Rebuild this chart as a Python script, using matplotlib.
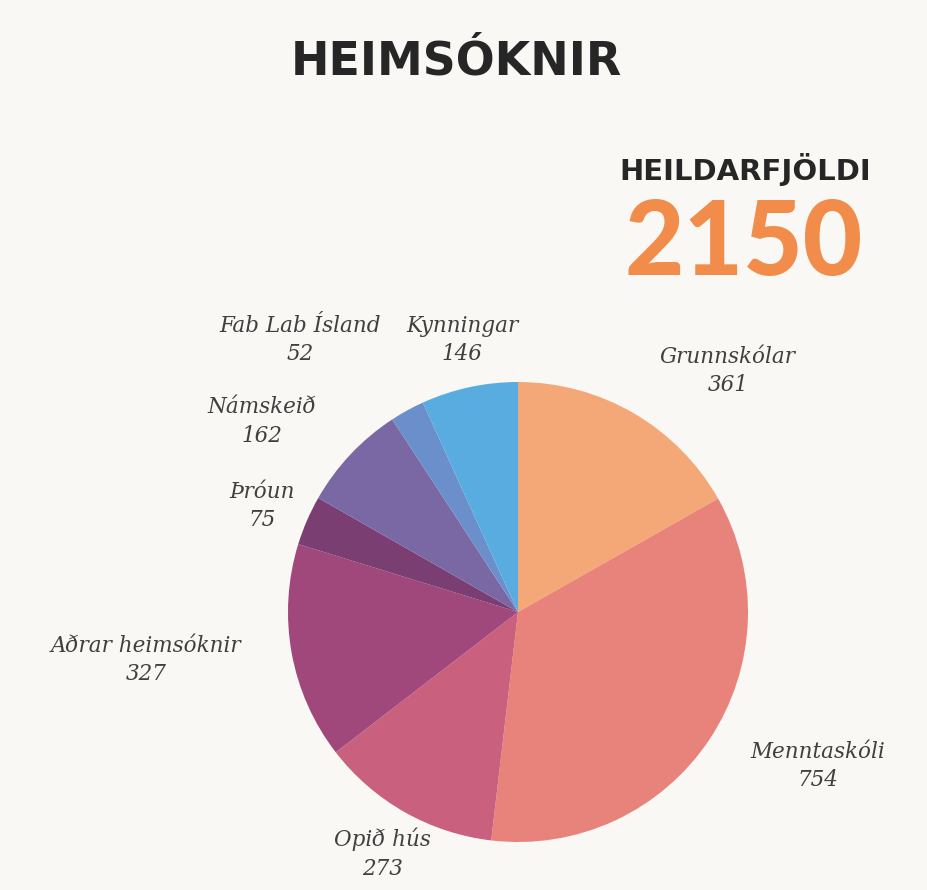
import matplotlib
matplotlib.use("Agg")
import matplotlib.pyplot as plt

# data
categories = ["Grunnskólar", "Menntaskóli", "Opið hús", "Aðrar heimsóknir",
              "Þróun", "Námskeið", "Fab Lab Ísland", "Kynningar"]
visits = [361, 754, 273, 327, 75, 162, 52, 146]
total = 2150

colors = ["#F4A877", "#E8837C", "#C8607E", "#A0477C",
          "#7A3E72", "#7A68A4", "#6B8FCB", "#59ACE0"]
# label centres in pie-radius units
label_pos = [(0.913, 1.048), (1.304, -0.670), (-0.591, -1.052), (-1.617, -0.209),
             (-1.113, 0.461), (-1.113, 0.830), (-0.948, 1.183), (-0.243, 1.183)]

BG = "#FAF8F4"
fig = plt.figure(figsize=(9.28, 8.9), dpi=100, facecolor=BG)

# pie axes: centre at (518, 612) px, radius 230 px
cx, cy, r = 518 / 928, 1 - 612 / 890, 230
ax = fig.add_axes([cx - r / 928, cy - r / 890, 2 * r / 928, 2 * r / 890])
ax.set_facecolor(BG)
ax.pie(visits, colors=colors, startangle=90, counterclock=False, radius=1,
       wedgeprops=dict(linewidth=0))
ax.set_xlim(-1, 1)
ax.set_ylim(-1, 1)
ax.set_aspect("equal")
ax.axis("off")

for name, val, (x, y) in zip(categories, visits, label_pos):
    ax.text(x, y, f"{name}\n{val}", ha="center", va="center",
            family="DejaVu Serif", style="italic", fontsize=15.5,
            color="#404040", linespacing=1.4, clip_on=False)

fig.text(456 / 928, 1 - 62 / 890, "HEIMSÓKNIR", ha="center", va="center",
         family="DejaVu Sans", weight="bold", fontsize=33, color="#262626")
fig.text(745 / 928, 1 - 170 / 890, "HEILDARFJÖLDI", ha="center", va="center",
         family="DejaVu Sans", weight="bold", fontsize=21, color="#262626")
fig.text(744 / 928, 1 - 245 / 890, str(total), ha="center", va="center",
         family="Lato", weight="black", fontsize=74, color="#F28C4A")

fig.savefig("out.png", dpi=100, facecolor=BG)
